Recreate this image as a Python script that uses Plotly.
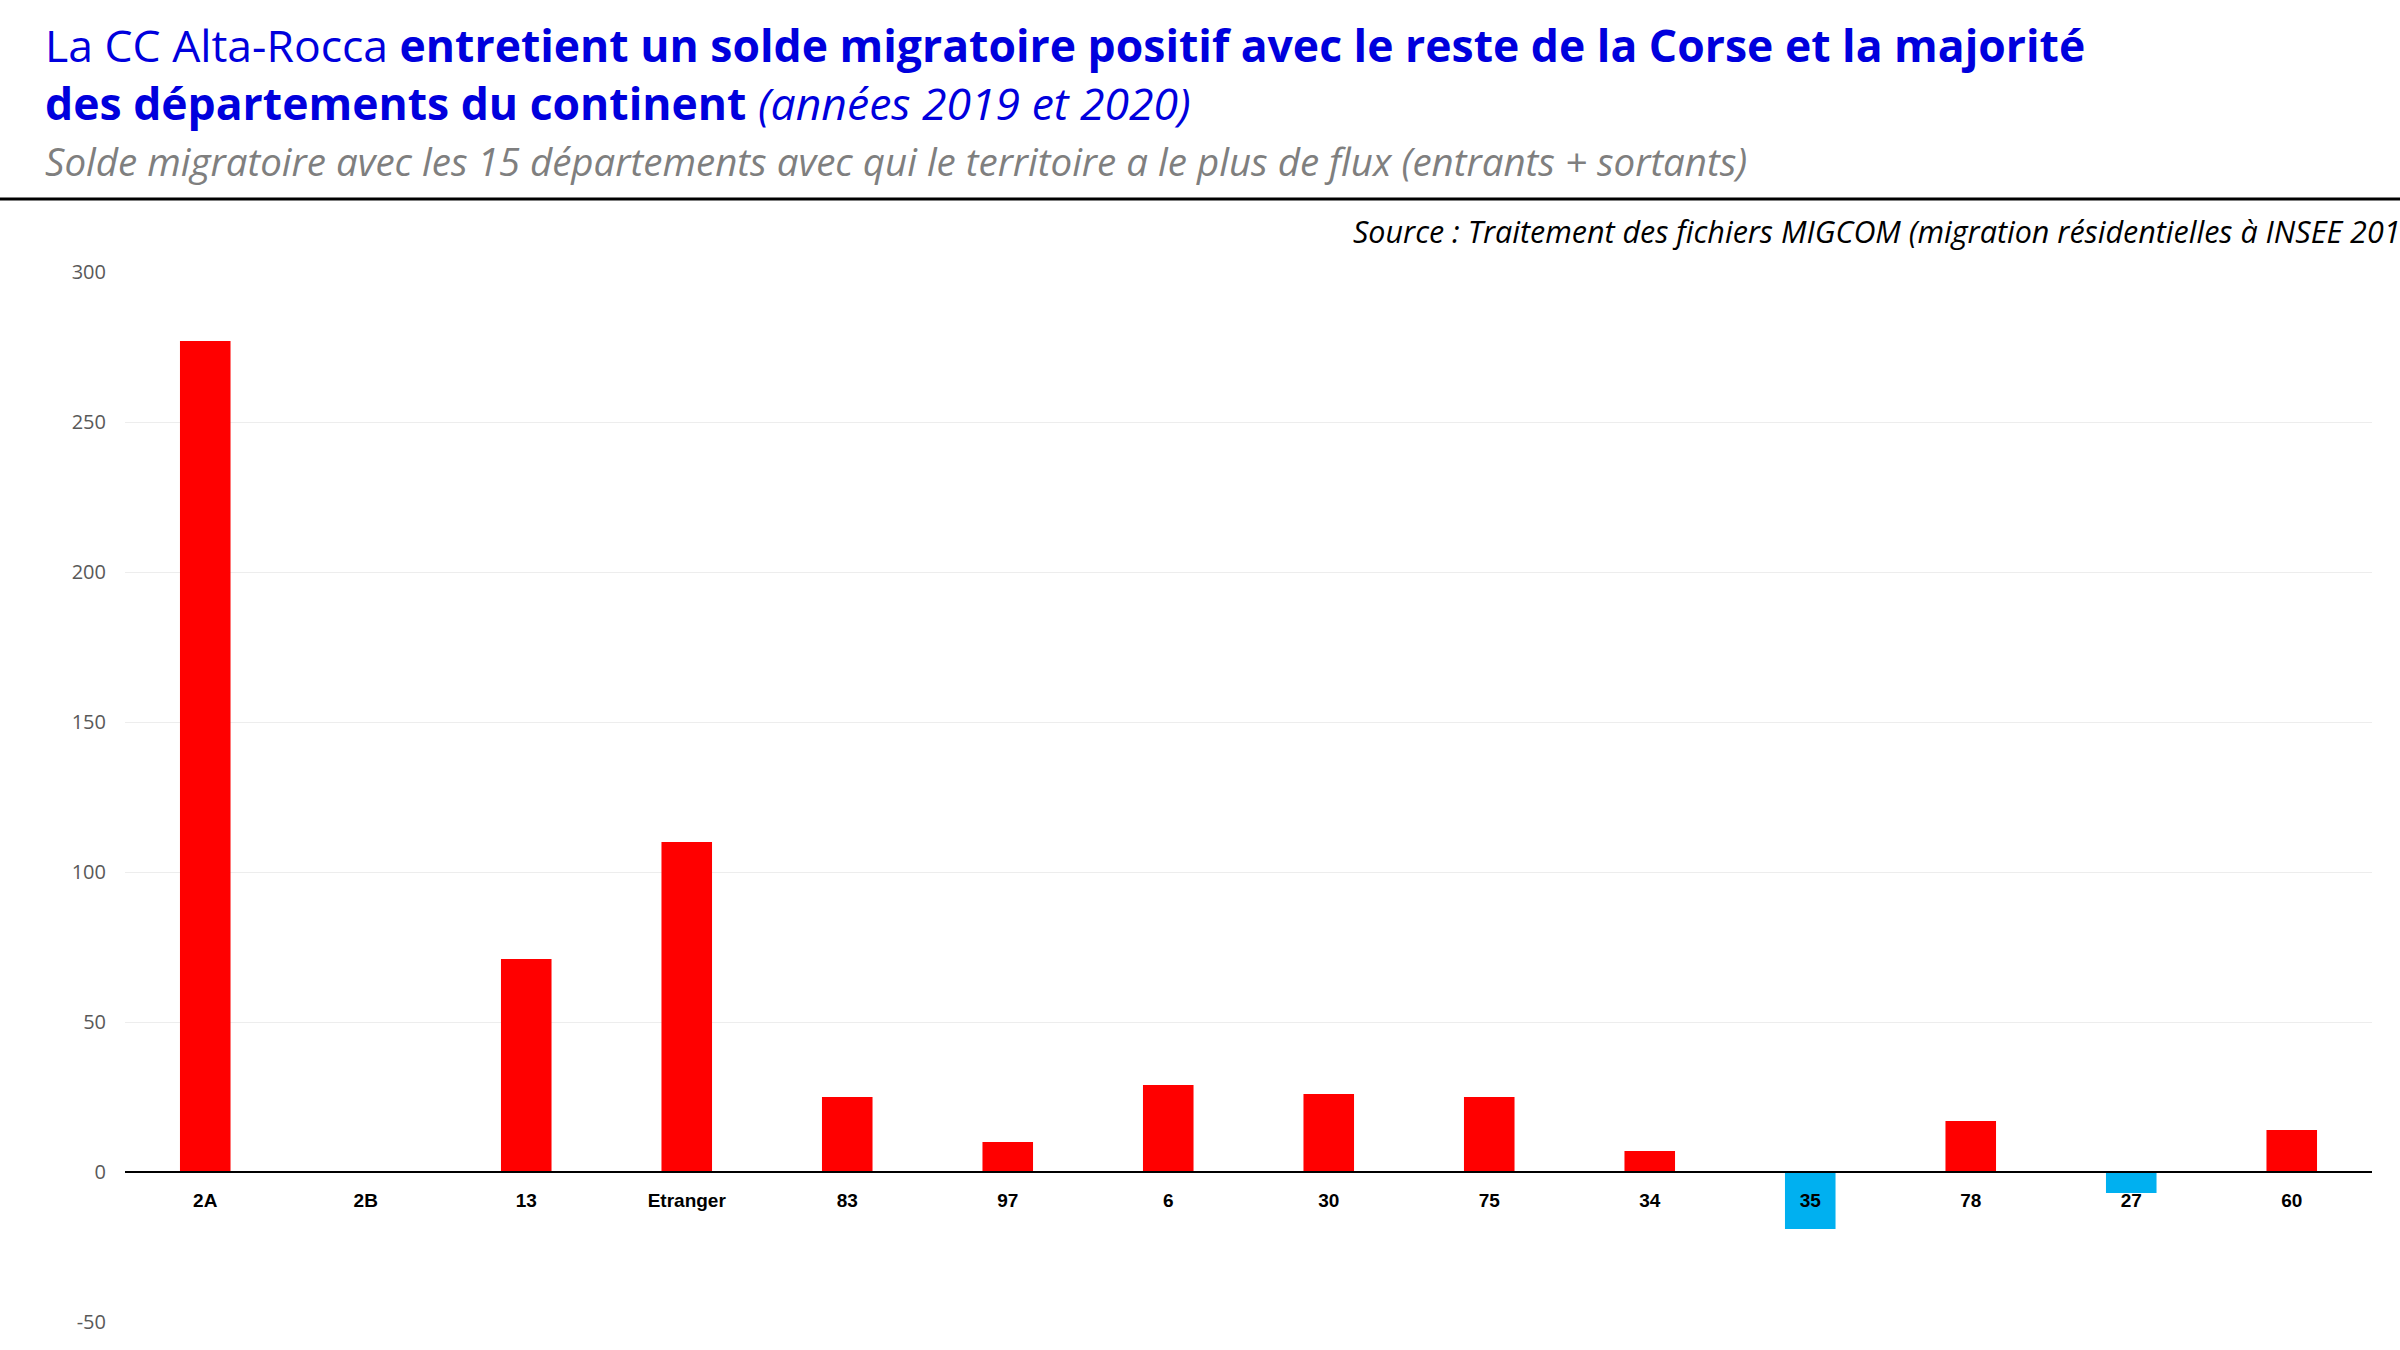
import plotly.graph_objects as go

categories = ["2A", "2B", "13", "Etranger", "83", "97", "6", "30", "75", "34", "35", "78", "27", "60"]
soldes = [277, 0, 71, 110, 25, 10, 29, 26, 25, 7, -19, 17, -7, 14]
y_ticks = [-50, 0, 50, 100, 150, 200, 250, 300]
y_tick_labels = ["-50", "0", "50", "100", "150", "200", "250", "300"]

W, H = 2400, 1350
ML, MR, MT, MB = 125, 28, 272, 28
PW, PH = W - ML - MR, H - MT - MB

def px_x(x):
    return (x - ML) / PW

def px_y(y):
    return (H - MB - y) / PH

RED = "#FF0000"
BLUE = "#00B0F0"
colors = [RED if v >= 0 else BLUE for v in soldes]

fig = go.Figure()
fig.add_trace(go.Bar(
    x=categories, y=soldes,
    marker=dict(color=colors, line=dict(width=0)),
    width=0.315,
    hoverinfo="x+y",
))

ymin, ymax = -50, 300
zero_pos = (0 - ymin) / (ymax - ymin)

fig.update_layout(
    width=W, height=H,
    margin=dict(l=ML, r=MR, t=MT, b=MB),
    paper_bgcolor="white", plot_bgcolor="white",
    showlegend=False,
    font=dict(family="Open Sans", color="#000000"),
    xaxis=dict(
        type="category",
        anchor="free", position=zero_pos,
        showline=True, linecolor="#000000", linewidth=2,
        showgrid=False, ticks="",
        tickfont=dict(family="Liberation Sans", size=19, color="#000000", weight="bold"),
        ticklabelstandoff=11,
        zeroline=False,
    ),
    yaxis=dict(
        range=[ymin, ymax],
        tickvals=y_ticks, ticktext=y_tick_labels,
        showgrid=True, gridcolor="#EDEDED", gridwidth=1,
        zeroline=False, showline=False, ticks="",
        tickfont=dict(family="Open Sans", size=20, color="#595959"),
        ticklabelstandoff=18,
    ),
)

title_color = "#0000DD"
fig.add_annotation(
    xref="paper", yref="paper", x=px_x(43), y=px_y(74),
    xanchor="left", yanchor="middle", align="left", showarrow=False,
    text=("La CC Alta-Rocca <b>entretient un solde migratoire positif avec le reste de la Corse et la majorité</b>"
          "<br><b>des départements du continent</b> <i>(années 2019 et 2020)</i>"),
    font=dict(family="Open Sans", size=44.5, color=title_color),
)
fig.add_annotation(
    xref="paper", yref="paper", x=px_x(43), y=px_y(161),
    xanchor="left", yanchor="middle", showarrow=False,
    text="<i>Solde migratoire avec les 15 départements avec qui le territoire a le plus de flux (entrants + sortants)</i>",
    font=dict(family="Open Sans", size=38.5, color="#7F7F7F"),
)
fig.add_annotation(
    xref="paper", yref="paper", x=px_x(1351), y=px_y(231),
    xanchor="left", yanchor="middle", showarrow=False,
    text="<i>Source : Traitement des fichiers MIGCOM (migration résidentielles à INSEE 201</i>",
    font=dict(family="Open Sans", size=30.5, color="#000000"),
)
fig.add_shape(
    type="line", xref="paper", yref="paper",
    x0=px_x(0), x1=px_x(W), y0=px_y(199), y1=px_y(199),
    line=dict(color="#000000", width=3),
)

fig.write_html("out.html")
